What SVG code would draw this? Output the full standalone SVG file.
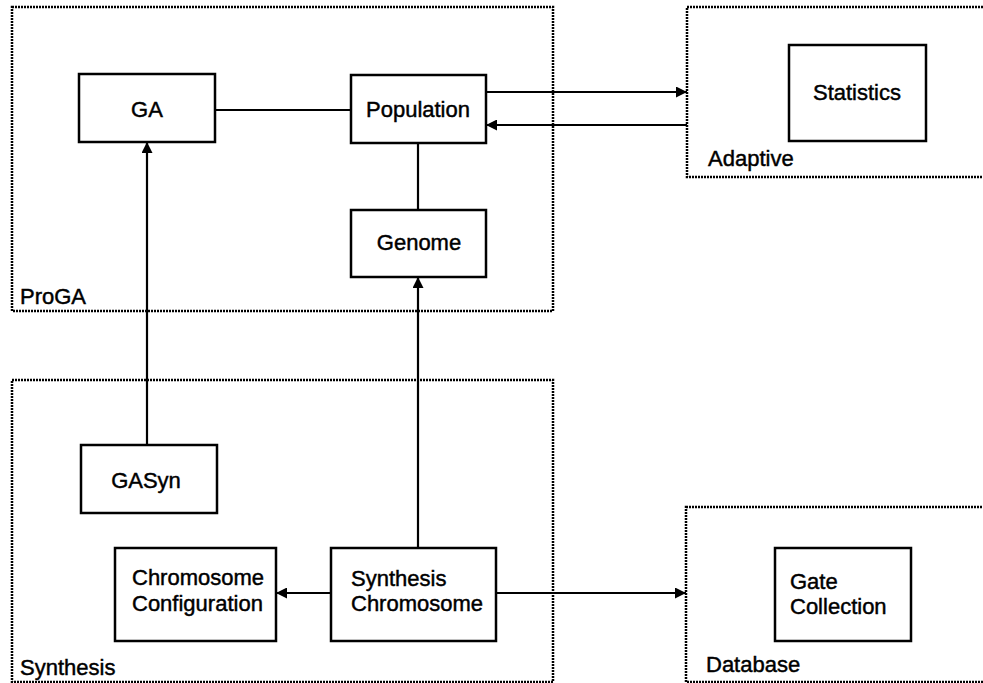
<svg xmlns="http://www.w3.org/2000/svg" width="983" height="683" viewBox="0 0 983 683">
  <style>
    .pkg { fill: none; stroke: #000; stroke-width: 2.5; stroke-dasharray: 2 1; }
    .box { fill: #fff; stroke: #000; stroke-width: 2.5; }
    .lbl { font-family: "Liberation Sans", Arial, sans-serif; font-size: 22px; fill: #000; stroke: #000; stroke-width: 0.45; }
    .mid { text-anchor: middle; }
    .wire { fill: none; stroke: #000; stroke-width: 2.2; }
  </style>
  <defs>
    <marker id="arrow" viewBox="0 0 10 10" refX="10" refY="5" markerWidth="11" markerHeight="11" markerUnits="userSpaceOnUse" orient="auto">
      <path d="M0,0 L10,5 L0,10 Z" fill="#000"/>
    </marker>
  </defs>
  <rect width="983" height="683" fill="#fff"/>

  <!-- packages -->
  <g id="pkg-proga">
    <rect class="pkg" x="12" y="7" width="541" height="304"/>
    <text class="lbl" x="20" y="304">ProGA</text>
  </g>
  <g id="pkg-adaptive">
    <rect class="pkg" x="687" y="7" width="310" height="170"/>
    <text class="lbl" x="708" y="166">Adaptive</text>
  </g>
  <g id="pkg-synthesis">
    <rect class="pkg" x="12" y="380" width="541" height="302"/>
    <text class="lbl" x="20" y="675">Synthesis</text>
  </g>
  <g id="pkg-database">
    <rect class="pkg" x="686" y="507" width="310" height="175"/>
    <text class="lbl" x="706" y="672">Database</text>
  </g>

  <!-- connectors -->
  <g id="connectors">
    <line class="wire" x1="215" y1="110" x2="351" y2="110"/>
    <line class="wire" x1="418" y1="143" x2="418" y2="210"/>
    <line class="wire" x1="486" y1="92" x2="687" y2="92" marker-end="url(#arrow)"/>
    <line class="wire" x1="687" y1="125" x2="486" y2="125" marker-end="url(#arrow)"/>
    <line class="wire" x1="147" y1="445" x2="147" y2="142" marker-end="url(#arrow)"/>
    <line class="wire" x1="418" y1="548" x2="418" y2="277" marker-end="url(#arrow)"/>
    <line class="wire" x1="331" y1="593" x2="276" y2="593" marker-end="url(#arrow)"/>
    <line class="wire" x1="496" y1="593" x2="686" y2="593" marker-end="url(#arrow)"/>
  </g>

  <!-- classes -->
  <g id="ga">
    <rect class="box" x="79" y="74" width="136" height="68"/>
    <text class="lbl mid" x="147" y="117">GA</text>
  </g>
  <g id="population">
    <rect class="box" x="351" y="75" width="135" height="68"/>
    <text class="lbl mid" x="418" y="117">Population</text>
  </g>
  <g id="genome">
    <rect class="box" x="351" y="210" width="135" height="67"/>
    <text class="lbl mid" x="419" y="250">Genome</text>
  </g>
  <g id="statistics">
    <rect class="box" x="789" y="45" width="137" height="96"/>
    <text class="lbl mid" x="857" y="100">Statistics</text>
  </g>
  <g id="gasyn">
    <rect class="box" x="81" y="445" width="136" height="68"/>
    <text class="lbl mid" x="146" y="488">GASyn</text>
  </g>
  <g id="chromosome-configuration">
    <rect class="box" x="115" y="548" width="161" height="93"/>
    <text class="lbl" x="132" y="585">Chromosome</text>
    <text class="lbl" x="132" y="611">Configuration</text>
  </g>
  <g id="synthesis-chromosome">
    <rect class="box" x="331" y="548" width="165" height="93"/>
    <text class="lbl" x="351" y="586">Synthesis</text>
    <text class="lbl" x="351" y="611">Chromosome</text>
  </g>
  <g id="gate-collection">
    <rect class="box" x="775" y="548" width="136" height="93"/>
    <text class="lbl" x="790" y="589">Gate</text>
    <text class="lbl" x="790" y="614">Collection</text>
  </g>
</svg>
